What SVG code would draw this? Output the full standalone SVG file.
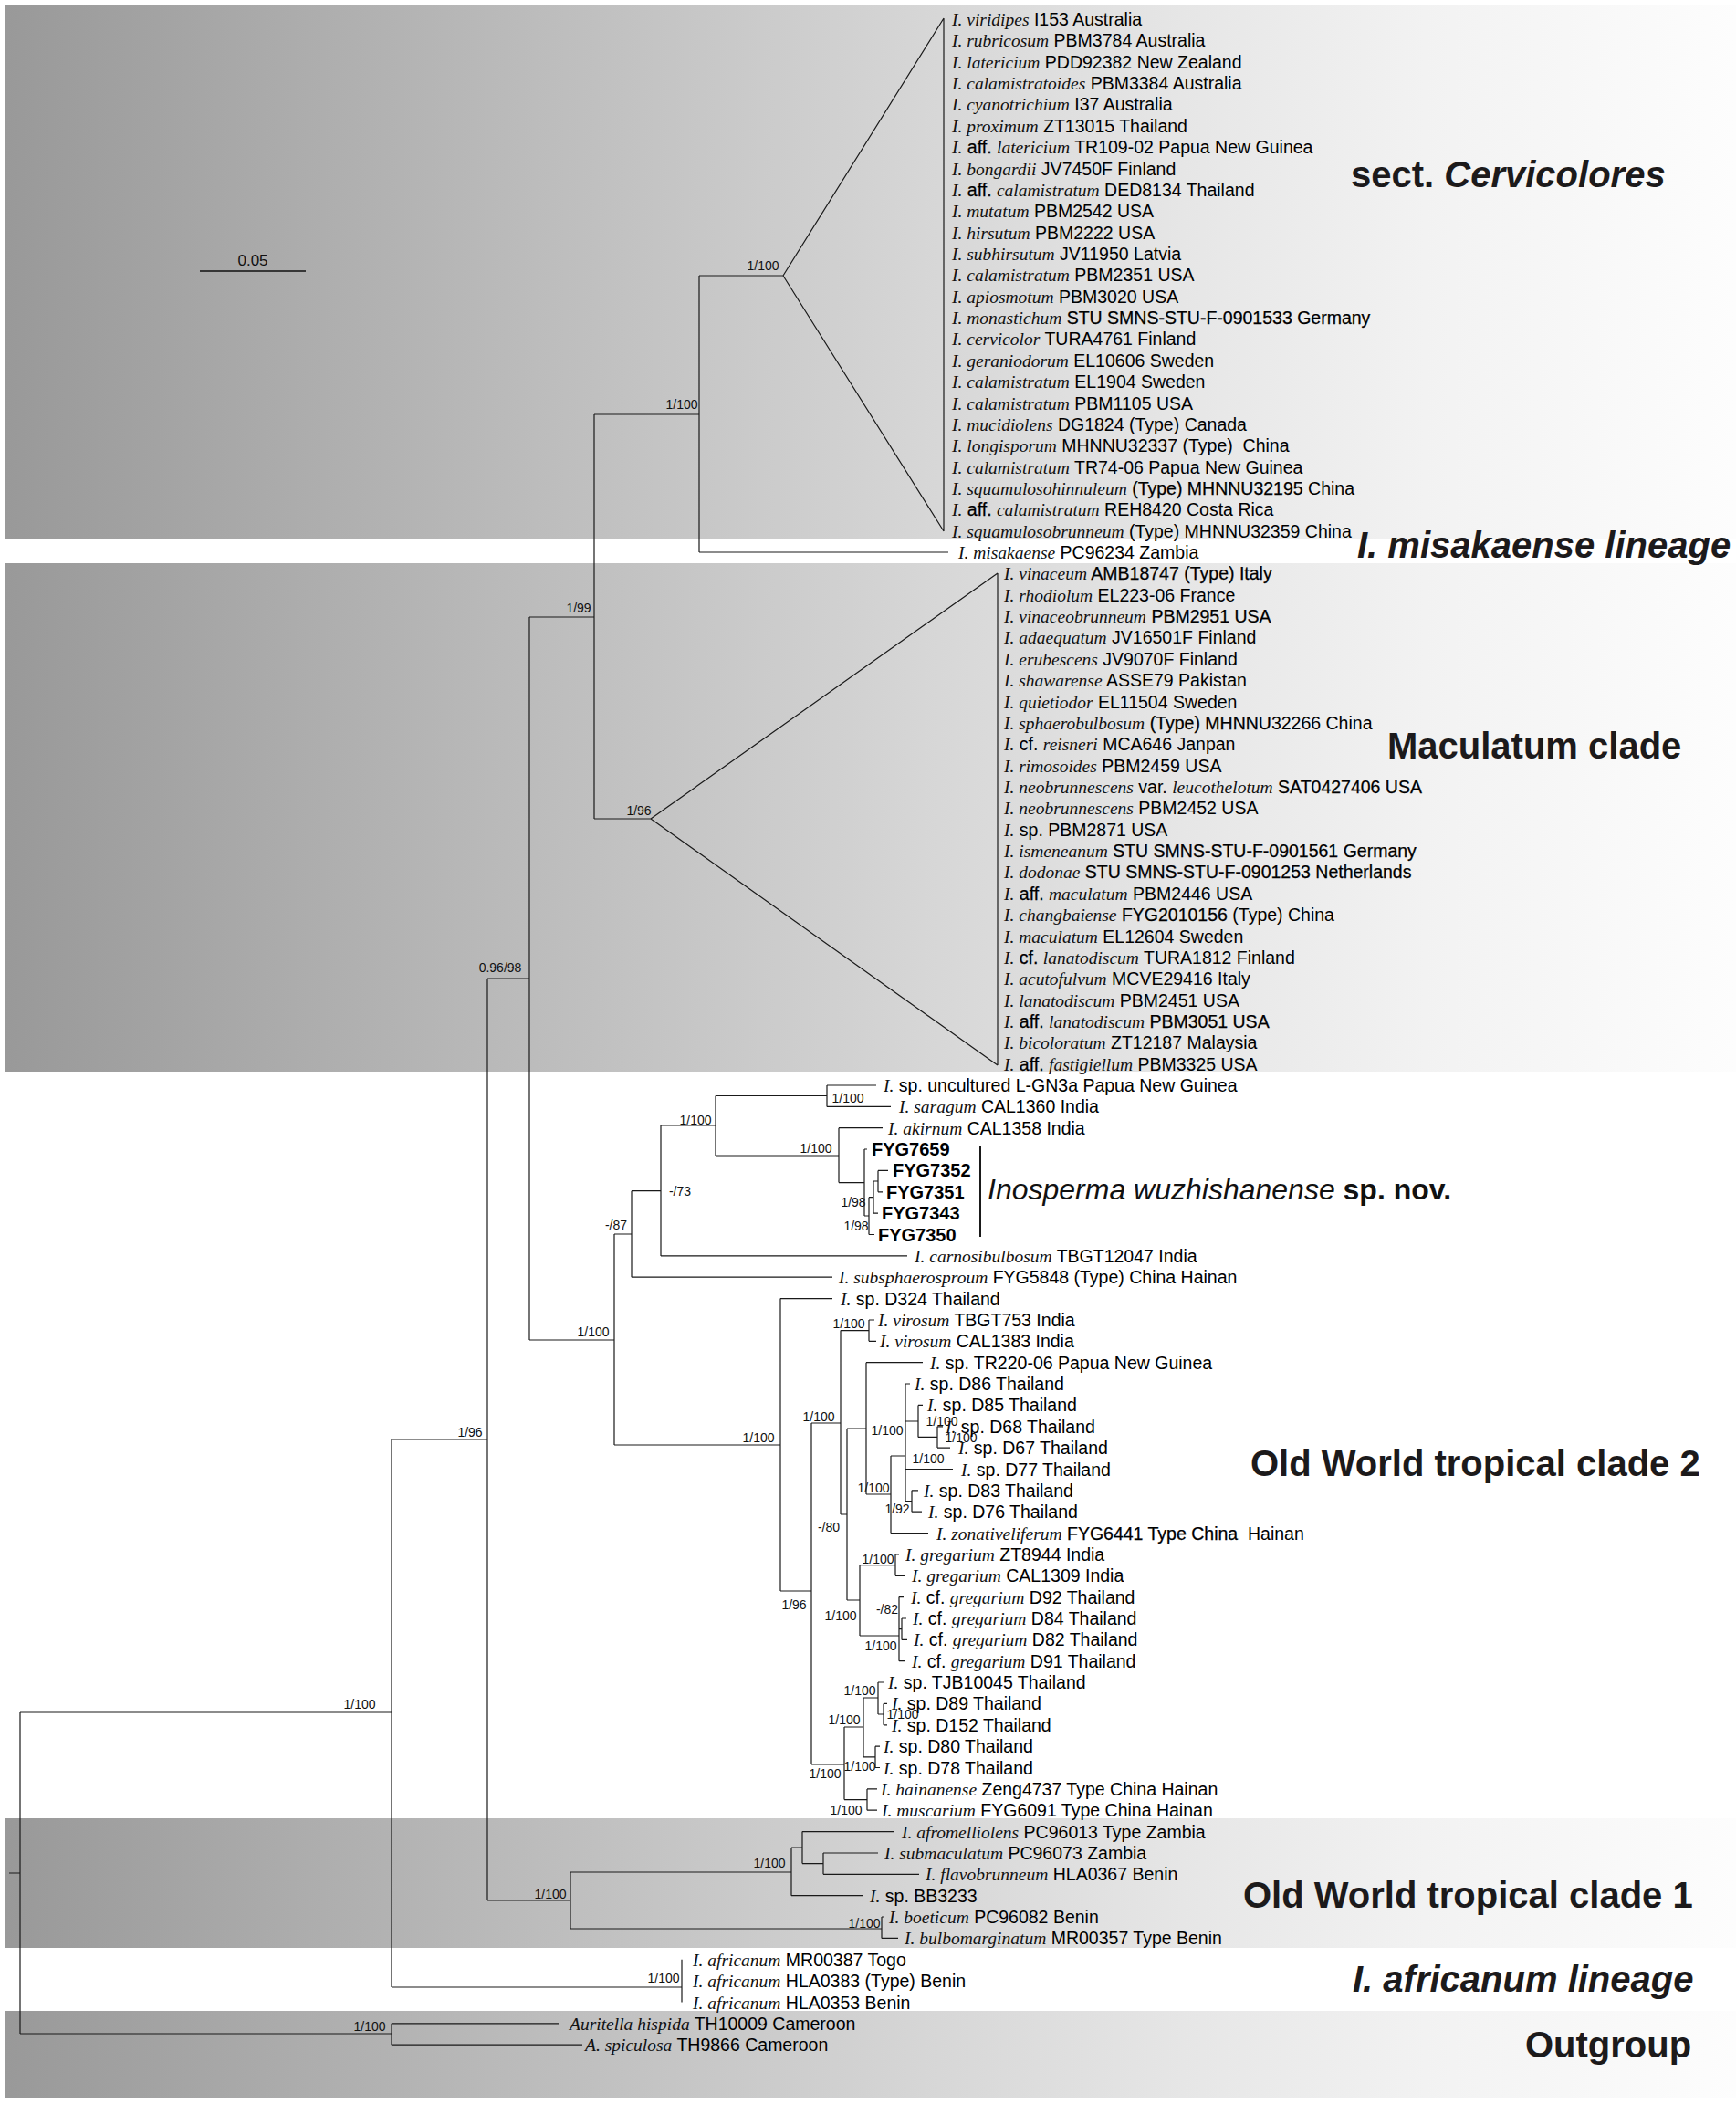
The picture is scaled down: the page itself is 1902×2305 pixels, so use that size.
<svg xmlns="http://www.w3.org/2000/svg" width="1902" height="2305" viewBox="0 0 1902 2305">
<defs>
<linearGradient id="bandg" gradientUnits="userSpaceOnUse" x1="6" y1="0" x2="1902" y2="0">
<stop offset="0" stop-color="#999999"/>
<stop offset="0.42" stop-color="#c9c9c9"/>
<stop offset="0.53" stop-color="#d6d6d6"/>
<stop offset="0.68" stop-color="#e6e6e6"/>
<stop offset="0.82" stop-color="#f2f2f2"/>
<stop offset="1" stop-color="#fdfdfd"/>
</linearGradient>
<style>
.s{font-family:"Liberation Sans",Arial,sans-serif;font-size:19.5px;fill:#000}
.i{font-family:"Liberation Serif","Times New Roman",serif;font-style:italic;fill:#111}
.k{stroke:#000;stroke-width:0.25}
.f{font-family:"Liberation Sans",Arial,sans-serif;font-size:20px;font-weight:bold;fill:#000}
.sup{font-family:"Liberation Sans",Arial,sans-serif;font-size:14px;fill:#111;text-anchor:middle}
.big{font-family:"Liberation Sans",Arial,sans-serif;font-size:40px;font-weight:bold;fill:#1c1a1b}
.tree{fill:none;stroke:#1a1a1a;stroke-width:1.2}
</style>
</defs>
<g id="bands">
<rect x="6" y="6" width="1896" height="585" fill="url(#bandg)"/>
<rect x="6" y="617" width="1896" height="557" fill="url(#bandg)"/>
<rect x="6" y="1992" width="1896" height="142" fill="url(#bandg)"/>
<rect x="6" y="2203" width="1896" height="95" fill="url(#bandg)"/>
</g>
<g id="scalebar">
<path d="M219 297 H335" stroke="#111" stroke-width="1.5"/>
<text x="277" y="291" font-family="Liberation Sans, Arial, sans-serif" font-size="17" text-anchor="middle" fill="#111">0.05</text>
</g>
<g id="connectors" class="tree">
<path d="M858 302 L1034 20 M858 302 L1034 582 M1034 20 V582 M766 302 H858 M766 302 V605 M766 605 H1039 M651 454 H766 M651 454 V897 M651 897 H713 M713 897 L1093 628 M713 897 L1093 1167 M1093 628 V1167 M580 676 H651 M580 676 V1468 M534 1072 H580 M534 1072 V2082 M429 1577 H534 M429 1577 V2177 M22 1876 H429 M22 1876 V2228 M10 2052 H22 M22 2228 H429 M429 2216.8 V2240.2 M429 2216.8 H612 M429 2240.2 H638 M429 2177 H747 M747 2146.8 V2193.5"/>
<path d="M534 2082 H625 M625 2051 V2113 M625 2051 H867 M867 2024 V2076.7 M867 2024 H879 M879 2006.6 V2041.6 M879 2006.6 H979 M879 2041.6 H902 M902 2030 V2053.3 M902 2030 H962 M902 2053.3 H1007 M867 2076.7 H946 M625 2113 H966 M966 2100 V2123.4 M966 2100 H969 M966 2123.4 H984"/>
<path d="M580 1468 H673 M673 1352 V1583 M673 1352 H692 M692 1304.7 V1399.2 M692 1399.2 H912 M692 1304.7 H724 M724 1233 V1375.9 M724 1375.9 H994 M724 1233 H784 M784 1200.5 V1266 M784 1200.5 H906 M906 1189 V1212.4 M906 1189 H960 M906 1212.4 H976 M784 1266 H919 M919 1235.7 V1295.6 M919 1235.7 H967 M919 1295.6 H947 M947 1259 V1332 M947 1259 H950 M947 1332 H952 M952 1311.7 V1352.5 M952 1352.5 H958 M952 1311.7 H957 M957 1294 V1329.2 M957 1329.2 H962 M957 1294 H962 M962 1282.4 V1305.8 M962 1282.4 H973 M962 1305.8 H967"/>
<path d="M673 1583 H855 M855 1422.6 V1743 M855 1422.6 H912 M855 1743 H889 M889 1559 V1933 M889 1559 H921 M921 1457.6 V1659 M921 1457.6 H952 M952 1446 V1469.3 M952 1446 H958 M952 1469.3 H960 M921 1659 H928 M928 1565 V1753 M928 1565 H949 M949 1492.7 V1637 M949 1492.7 H1011 M949 1637 H976 M976 1595 V1679.6 M976 1679.6 H1017 M976 1595 H992 M992 1516 V1644.5 M992 1516 H997 M992 1557 H1006 M1006 1539.4 V1574.4 M1006 1539.4 H1011 M1006 1574.4 H1027 M1027 1562.8 V1586.1 M1027 1562.8 H1033 M1027 1586.1 H1041 M992 1609.5 H1044 M992 1644.5 H999 M999 1632.8 V1656.2 M999 1632.8 H1006 M999 1656.2 H1010"/>
<path d="M928 1753 H942 M942 1714.6 V1792 M942 1714.6 H981 M981 1703 V1726.3 M981 1703 H985 M981 1726.3 H992 M942 1792 H985 M985 1749.6 V1819.7 M985 1749.6 H990 M985 1819.7 H992 M985 1784.7 H988 M988 1773 V1796.4 M988 1773 H993 M988 1796.4 H994"/>
<path d="M889 1933 H925 M925 1892 V1971.6 M925 1892 H946 M946 1860 V1924.8 M946 1860 H962 M962 1843 V1878 M962 1843 H969 M962 1878 H968 M968 1866.4 V1889.8 M968 1866.4 H972 M968 1889.8 H972 M946 1924.8 H959 M959 1913.2 V1936.5 M959 1913.2 H964 M959 1936.5 H964 M925 1971.6 H950 M950 1959.9 V1983.2 M950 1959.9 H961 M950 1983.2 H961"/>
<path d="M1074 1255 V1355" stroke-width="2"/>
</g>
<g id="supports">
<text class="sup" x="836" y="296">1/100</text>
<text class="sup" x="747" y="448">1/100</text>
<text class="sup" x="634" y="671">1/99</text>
<text class="sup" x="700" y="893">1/96</text>
<text class="sup" x="548" y="1065">0.96/98</text>
<text class="sup" x="762" y="1232">1/100</text>
<text class="sup" x="929" y="1208">1/100</text>
<text class="sup" x="894" y="1263">1/100</text>
<text class="sup" x="745" y="1310">-/73</text>
<text class="sup" x="675" y="1347">-/87</text>
<text class="sup" x="935" y="1322">1/98</text>
<text class="sup" x="938" y="1348">1/98</text>
<text class="sup" x="650" y="1464">1/100</text>
<text class="sup" x="515" y="1574">1/96</text>
<text class="sup" x="831" y="1580">1/100</text>
<text class="sup" x="897" y="1557">1/100</text>
<text class="sup" x="930" y="1455">1/100</text>
<text class="sup" x="908" y="1678">-/80</text>
<text class="sup" x="957" y="1635">1/100</text>
<text class="sup" x="972" y="1572">1/100</text>
<text class="sup" x="1032" y="1562">1/100</text>
<text class="sup" x="1053" y="1580">1/100</text>
<text class="sup" x="1017" y="1603">1/100</text>
<text class="sup" x="983" y="1658">1/92</text>
<text class="sup" x="962" y="1713">1/100</text>
<text class="sup" x="921" y="1775">1/100</text>
<text class="sup" x="972" y="1768">-/82</text>
<text class="sup" x="965" y="1808">1/100</text>
<text class="sup" x="870" y="1763">1/96</text>
<text class="sup" x="904" y="1948">1/100</text>
<text class="sup" x="925" y="1889">1/100</text>
<text class="sup" x="942" y="1857">1/100</text>
<text class="sup" x="989" y="1883">1/100</text>
<text class="sup" x="942" y="1940">1/100</text>
<text class="sup" x="927" y="1988">1/100</text>
<text class="sup" x="394" y="1872">1/100</text>
<text class="sup" x="603" y="2080">1/100</text>
<text class="sup" x="843" y="2046">1/100</text>
<text class="sup" x="947" y="2112">1/100</text>
<text class="sup" x="727" y="2172">1/100</text>
<text class="sup" x="405" y="2225">1/100</text>
</g>
<g id="taxa">
<g id="t0"><text class="s" x="1043" y="28"><tspan class="i">I. viridipes</tspan> I153 Australia</text></g>
<g id="t1"><text class="s" x="1043" y="51.4"><tspan class="i">I. rubricosum</tspan> PBM3784 Australia</text></g>
<g id="t2"><text class="s" x="1043" y="74.7"><tspan class="i">I. latericium</tspan> PDD92382 New Zealand</text></g>
<g id="t3"><text class="s" x="1043" y="98.1"><tspan class="i">I. calamistratoides</tspan> PBM3384 Australia</text></g>
<g id="t4"><text class="s" x="1043" y="121.4"><tspan class="i">I. cyanotrichium</tspan> I37 Australia</text></g>
<g id="t5"><text class="s" x="1043" y="144.8"><tspan class="i">I. proximum</tspan> ZT13015 Thailand</text></g>
<g id="t6"><text class="s" x="1043" y="168.2"><tspan class="i">I.</tspan> <tspan class="k">aff.</tspan> <tspan class="i">latericium</tspan> TR109-02 Papua New Guinea</text></g>
<g id="t7"><text class="s" x="1043" y="191.5"><tspan class="i">I. bongardii</tspan> JV7450F Finland</text></g>
<g id="t8"><text class="s" x="1043" y="214.9"><tspan class="i">I.</tspan> <tspan class="k">aff.</tspan> <tspan class="i">calamistratum</tspan> DED8134 Thailand</text></g>
<g id="t9"><text class="s" x="1043" y="238.2"><tspan class="i">I. mutatum</tspan> PBM2542 USA</text></g>
<g id="t10"><text class="s" x="1043" y="261.6"><tspan class="i">I. hirsutum</tspan> PBM2222 USA</text></g>
<g id="t11"><text class="s" x="1043" y="285"><tspan class="i">I. subhirsutum</tspan> JV11950 Latvia</text></g>
<g id="t12"><text class="s" x="1043" y="308.3"><tspan class="i">I. calamistratum</tspan> PBM2351 USA</text></g>
<g id="t13"><text class="s" x="1043" y="331.7"><tspan class="i">I. apiosmotum</tspan> PBM3020 USA</text></g>
<g id="t14"><text class="s" x="1043" y="355"><tspan class="i">I. monastichum</tspan> <tspan class="k">STU SMNS-STU-F-0901533 Germany</tspan></text></g>
<g id="t15"><text class="s" x="1043" y="378.4"><tspan class="i">I. cervicolor</tspan> TURA4761 Finland</text></g>
<g id="t16"><text class="s" x="1043" y="401.8"><tspan class="i">I. geraniodorum</tspan> EL10606 Sweden</text></g>
<g id="t17"><text class="s" x="1043" y="425.1"><tspan class="i">I. calamistratum</tspan> EL1904 Sweden</text></g>
<g id="t18"><text class="s" x="1043" y="448.5"><tspan class="i">I. calamistratum</tspan> PBM1105 USA</text></g>
<g id="t19"><text class="s" x="1043" y="471.8"><tspan class="i">I. mucidiolens</tspan> DG1824 (Type) Canada</text></g>
<g id="t20"><text class="s" x="1043" y="495.2" xml:space="preserve"><tspan class="i">I. longisporum</tspan> MHNNU32337 (Type)  China</text></g>
<g id="t21"><text class="s" x="1043" y="518.6"><tspan class="i">I. calamistratum</tspan> TR74-06 Papua New Guinea</text></g>
<g id="t22"><text class="s" x="1043" y="541.9"><tspan class="i">I. squamulosohinnuleum</tspan> <tspan class="k">(Type) MHNNU32195</tspan> China</text></g>
<g id="t23"><text class="s" x="1043" y="565.3"><tspan class="i">I.</tspan> <tspan class="k">aff.</tspan> <tspan class="i">calamistratum</tspan> REH8420 Costa Rica</text></g>
<g id="t24"><text class="s" x="1043" y="588.6"><tspan class="i">I. squamulosobrunneum</tspan> (Type) MHNNU32359 China</text></g>
<g id="t25"><text class="s" x="1050" y="612"><tspan class="i">I. misakaense</tspan> PC96234 Zambia</text></g>
<g id="t26"><text class="s" x="1100" y="635.4"><tspan class="i">I. vinaceum</tspan> <tspan class="k">AMB18747 (Type) Italy</tspan></text></g>
<g id="t27"><text class="s" x="1100" y="658.7"><tspan class="i">I. rhodiolum</tspan> EL223-06 France</text></g>
<g id="t28"><text class="s" x="1100" y="682.1"><tspan class="i">I. vinaceobrunneum</tspan> <tspan class="k">PBM2951 USA</tspan></text></g>
<g id="t29"><text class="s" x="1100" y="705.4"><tspan class="i">I. adaequatum</tspan> JV16501F Finland</text></g>
<g id="t30"><text class="s" x="1100" y="728.8"><tspan class="i">I. erubescens</tspan> JV9070F Finland</text></g>
<g id="t31"><text class="s" x="1100" y="752.2"><tspan class="i">I. shawarense</tspan> ASSE79 Pakistan</text></g>
<g id="t32"><text class="s" x="1100" y="775.5"><tspan class="i">I. quietiodor</tspan> EL11504 Sweden</text></g>
<g id="t33"><text class="s" x="1100" y="798.9"><tspan class="i">I. sphaerobulbosum</tspan> <tspan class="k">(Type) MHNNU</tspan>32266 China</text></g>
<g id="t34"><text class="s" x="1100" y="822.2"><tspan class="i">I.</tspan> cf. <tspan class="i">reisneri</tspan> MCA646 Janpan</text></g>
<g id="t35"><text class="s" x="1100" y="845.6"><tspan class="i">I. rimosoides</tspan> PBM2459 USA</text></g>
<g id="t36"><text class="s" x="1100" y="869"><tspan class="i">I. neobrunnescens</tspan> var. <tspan class="i">leucothelotum</tspan> <tspan class="k">SAT0427406 USA</tspan></text></g>
<g id="t37"><text class="s" x="1100" y="892.3"><tspan class="i">I. neobrunnescens</tspan> PBM2452 USA</text></g>
<g id="t38"><text class="s" x="1100" y="915.7"><tspan class="i">I.</tspan> sp. PBM2871 USA</text></g>
<g id="t39"><text class="s" x="1100" y="939"><tspan class="i">I. ismeneanum</tspan> <tspan class="k">STU SMNS-STU-F-0901561 Germany</tspan></text></g>
<g id="t40"><text class="s" x="1100" y="962.4"><tspan class="i">I. dodonae</tspan> <tspan class="k">STU SMNS-STU-F-0901253 Netherlands</tspan></text></g>
<g id="t41"><text class="s" x="1100" y="985.8"><tspan class="i">I.</tspan> <tspan class="k">aff.</tspan> <tspan class="i">maculatum</tspan> PBM2446 USA</text></g>
<g id="t42"><text class="s" x="1100" y="1009.1"><tspan class="i">I. changbaiense</tspan> <tspan class="k">FYG2010156</tspan> (Type) China</text></g>
<g id="t43"><text class="s" x="1100" y="1032.5"><tspan class="i">I. maculatum</tspan> EL12604 Sweden</text></g>
<g id="t44"><text class="s" x="1100" y="1055.8"><tspan class="i">I.</tspan> <tspan class="k">cf.</tspan> <tspan class="i">lanatodiscum</tspan> TURA1812 Finland</text></g>
<g id="t45"><text class="s" x="1100" y="1079.2"><tspan class="i">I. acutofulvum</tspan> MCVE29416 Italy</text></g>
<g id="t46"><text class="s" x="1100" y="1102.6"><tspan class="i">I. lanatodiscum</tspan> PBM2451 USA</text></g>
<g id="t47"><text class="s" x="1100" y="1125.9"><tspan class="i">I.</tspan> <tspan class="k">aff.</tspan> <tspan class="i">lanatodiscum</tspan> <tspan class="k">PBM3051 USA</tspan></text></g>
<g id="t48"><text class="s" x="1100" y="1149.3"><tspan class="i">I. bicoloratum</tspan> ZT12187 Malaysia</text></g>
<g id="t49"><text class="s" x="1100" y="1172.6"><tspan class="i">I.</tspan> <tspan class="k">aff.</tspan> <tspan class="i">fastigiellum</tspan> PBM3325 USA</text></g>
<g id="t50"><text class="s" x="968" y="1196"><tspan class="i">I.</tspan> sp. uncultured L-GN3a Papua New Guinea</text></g>
<g id="t51"><text class="s" x="985" y="1219.4"><tspan class="i">I. saragum</tspan> CAL1360 India</text></g>
<g id="t52"><text class="s" x="973" y="1242.7"><tspan class="i">I. akirnum</tspan> CAL1358 India</text></g>
<g id="t53"><text class="f" x="955" y="1266.1">FYG7659</text></g>
<g id="t54"><text class="f" x="978" y="1289.4">FYG7352</text></g>
<g id="t55"><text class="f" x="971" y="1312.8">FYG7351</text></g>
<g id="t56"><text class="f" x="966" y="1336.2">FYG7343</text></g>
<g id="t57"><text class="f" x="962" y="1359.5">FYG7350</text></g>
<g id="t58"><text class="s" x="1002" y="1382.9"><tspan class="i">I. carnosibulbosum</tspan> TBGT12047 India</text></g>
<g id="t59"><text class="s" x="919" y="1406.2"><tspan class="i">I. subsphaerosproum</tspan> FYG5848 (Type) China Hainan</text></g>
<g id="t60"><text class="s" x="921" y="1429.6"><tspan class="i">I.</tspan> sp. D324 Thailand</text></g>
<g id="t61"><text class="s" x="962" y="1453"><tspan class="i">I. virosum</tspan> TBGT753 India</text></g>
<g id="t62"><text class="s" x="964" y="1476.3"><tspan class="i">I. virosum</tspan> CAL1383 India</text></g>
<g id="t63"><text class="s" x="1019" y="1499.7"><tspan class="i">I.</tspan> sp. TR220-06 Papua New Guinea</text></g>
<g id="t64"><text class="s" x="1002" y="1523"><tspan class="i">I.</tspan> sp. D86 Thailand</text></g>
<g id="t65"><text class="s" x="1016" y="1546.4"><tspan class="i">I.</tspan> sp. D85 Thailand</text></g>
<g id="t66"><text class="s" x="1036" y="1569.8"><tspan class="i">I.</tspan> sp. D68 Thailand</text></g>
<g id="t67"><text class="s" x="1050" y="1593.1"><tspan class="i">I.</tspan> sp. D67 Thailand</text></g>
<g id="t68"><text class="s" x="1053" y="1616.5"><tspan class="i">I.</tspan> sp. D77 Thailand</text></g>
<g id="t69"><text class="s" x="1012" y="1639.8"><tspan class="i">I.</tspan> sp. D83 Thailand</text></g>
<g id="t70"><text class="s" x="1017" y="1663.2"><tspan class="i">I.</tspan> sp. D76 Thailand</text></g>
<g id="t71"><text class="s" x="1026" y="1686.6" xml:space="preserve"><tspan class="i">I. zonativeliferum</tspan> <tspan class="k">FYG6441 Type China</tspan>  Hainan</text></g>
<g id="t72"><text class="s" x="992" y="1709.9"><tspan class="i">I. gregarium</tspan> ZT8944 India</text></g>
<g id="t73"><text class="s" x="999" y="1733.3"><tspan class="i">I. gregarium</tspan> CAL1309 India</text></g>
<g id="t74"><text class="s" x="998" y="1756.6"><tspan class="i">I.</tspan> cf. <tspan class="i">gregarium</tspan> D92 Thailand</text></g>
<g id="t75"><text class="s" x="1000" y="1780"><tspan class="i">I.</tspan> cf. <tspan class="i">gregarium</tspan> D84 Thailand</text></g>
<g id="t76"><text class="s" x="1001" y="1803.4"><tspan class="i">I.</tspan> cf. <tspan class="i">gregarium</tspan> D82 Thailand</text></g>
<g id="t77"><text class="s" x="999" y="1826.7"><tspan class="i">I.</tspan> cf. <tspan class="i">gregarium</tspan> D91 Thailand</text></g>
<g id="t78"><text class="s" x="973" y="1850.1"><tspan class="i">I.</tspan> sp. TJB10045 Thailand</text></g>
<g id="t79"><text class="s" x="977" y="1873.4"><tspan class="i">I.</tspan> sp. D89 Thailand</text></g>
<g id="t80"><text class="s" x="977" y="1896.8"><tspan class="i">I.</tspan> sp. D152 Thailand</text></g>
<g id="t81"><text class="s" x="968" y="1920.2"><tspan class="i">I.</tspan> sp. D80 Thailand</text></g>
<g id="t82"><text class="s" x="968" y="1943.5"><tspan class="i">I.</tspan> sp. D78 Thailand</text></g>
<g id="t83"><text class="s" x="965" y="1966.9"><tspan class="i">I. hainanense</tspan> Zeng4737 Type China Hainan</text></g>
<g id="t84"><text class="s" x="966" y="1990.2"><tspan class="i">I. muscarium</tspan> FYG6091 Type China Hainan</text></g>
<g id="t85"><text class="s" x="988" y="2013.6"><tspan class="i">I. afromelliolens</tspan> PC96013 Type Zambia</text></g>
<g id="t86"><text class="s" x="969" y="2037"><tspan class="i">I. submaculatum</tspan> PC96073 Zambia</text></g>
<g id="t87"><text class="s" x="1014" y="2060.3"><tspan class="i">I. flavobrunneum</tspan> HLA0367 Benin</text></g>
<g id="t88"><text class="s" x="953" y="2083.7"><tspan class="i">I.</tspan> sp. BB3233</text></g>
<g id="t89"><text class="s" x="974" y="2107"><tspan class="i">I. boeticum</tspan> PC96082 Benin</text></g>
<g id="t90"><text class="s" x="991" y="2130.4"><tspan class="i">I. bulbomarginatum</tspan> MR00357 Type Benin</text></g>
<g id="t91"><text class="s" x="759" y="2153.8"><tspan class="i">I. africanum</tspan> MR00387 Togo</text></g>
<g id="t92"><text class="s" x="759" y="2177.1"><tspan class="i">I. africanum</tspan> HLA0383 (Type) Benin</text></g>
<g id="t93"><text class="s" x="759" y="2200.5"><tspan class="i">I. africanum</tspan> HLA0353 Benin</text></g>
<g id="t94"><text class="s" x="624" y="2223.8"><tspan class="i">Auritella hispida</tspan> TH10009 Cameroon</text></g>
<g id="t95"><text class="s" x="641" y="2247.2"><tspan class="i">A. spiculosa</tspan> TH9866 Cameroon</text></g>
</g>
<g id="species-label">
<text x="1082" y="1314" font-family="Liberation Sans, Arial, sans-serif" font-size="32" fill="#111"><tspan font-style="italic">Inosperma wuzhishanense</tspan> <tspan font-weight="bold">sp. nov.</tspan></text>
</g>
<g id="clade-labels">
<g id="c-cervicolores"><text class="big" x="1480" y="205">sect. <tspan font-style="italic">Cervicolores</tspan></text></g>
<g id="c-misakaense"><text class="big" x="1487" y="611" font-style="italic">I. misakaense lineage</text></g>
<g id="c-maculatum"><text class="big" x="1520" y="831">Maculatum clade</text></g>
<g id="c-owt2"><text class="big" x="1370" y="1617">Old World tropical clade 2</text></g>
<g id="c-owt1"><text class="big" x="1362" y="2090">Old World tropical clade 1</text></g>
<g id="c-africanum"><text class="big" x="1482" y="2182" font-style="italic">I. africanum lineage</text></g>
<g id="c-outgroup"><text class="big" x="1671" y="2254">Outgroup</text></g>
</g>
</svg>
